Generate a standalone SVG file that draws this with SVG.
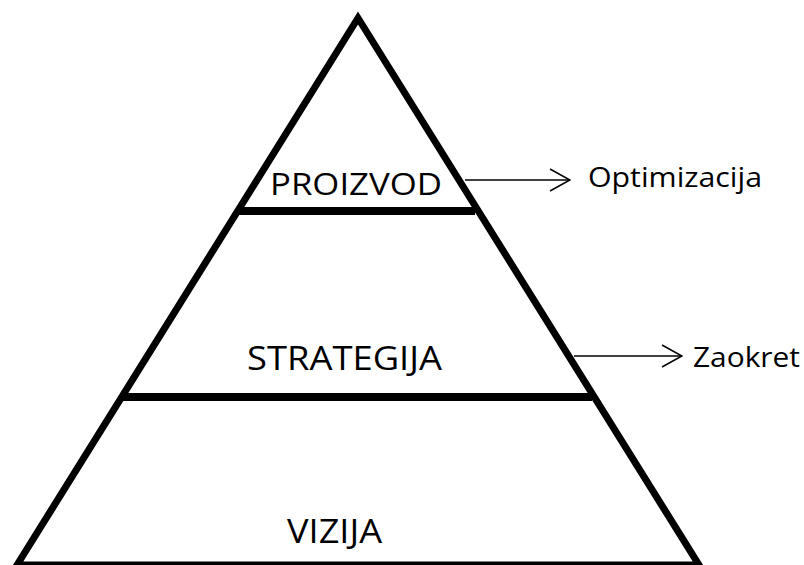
<svg xmlns="http://www.w3.org/2000/svg" width="804" height="565" viewBox="0 0 804 565">
<defs>
<style>
.edge{fill:none;stroke:#000;stroke-width:7;stroke-linejoin:miter}
.bar{stroke:#000;stroke-width:8}
.lbl{font-family:"Open Sans","Liberation Sans",sans-serif;fill:#000}
.conn{fill:none;stroke:#000;stroke-width:1.5}
</style>
<marker id="open" viewBox="0 0 22 24" refX="21" refY="12" markerWidth="22" markerHeight="24" markerUnits="userSpaceOnUse" orient="auto">
<path d="M1,1 L21,12 L1,23" fill="none" stroke="#000" stroke-width="1.5"/>
</marker>
</defs>
<rect width="804" height="565" fill="#fff"/>
<g id="pyramid">
<path class="edge" d="M17,565 L358,18 L699,565 Z"/>
</g>
<g id="proizvod">
<line class="bar" x1="238" y1="211" x2="475" y2="211"/>
<text class="lbl" x="270" y="195" font-size="31" textLength="172" lengthAdjust="spacingAndGlyphs">PROIZVOD</text>
</g>
<g id="strategija">
<line class="bar" x1="120" y1="397" x2="592" y2="397"/>
<text class="lbl" x="247" y="370" font-size="33" textLength="195" lengthAdjust="spacingAndGlyphs">STRATEGIJA</text>
</g>
<g id="vizija">
<text class="lbl" x="287" y="543" font-size="33" textLength="95" lengthAdjust="spacingAndGlyphs">VIZIJA</text>
</g>
<g id="optimizacija">
<text class="lbl" x="588" y="187" font-size="27" textLength="174" lengthAdjust="spacingAndGlyphs">Optimizacija</text>
</g>
<g id="zaokret">
<text class="lbl" x="693" y="367" font-size="28" textLength="107" lengthAdjust="spacingAndGlyphs">Zaokret</text>
</g>
<g id="connectors">
<line class="conn" x1="465" y1="180" x2="570" y2="180" marker-end="url(#open)"/>
<line class="conn" x1="574" y1="356" x2="682" y2="356" marker-end="url(#open)"/>
</g>
</svg>
